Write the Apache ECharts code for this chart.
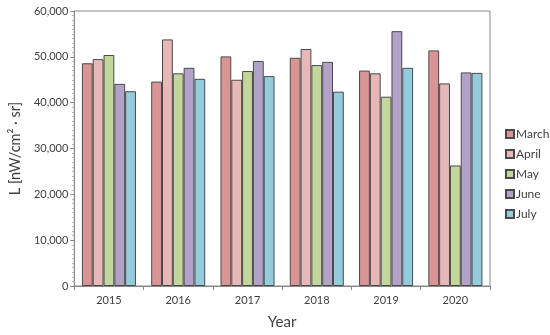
<!DOCTYPE html>
<html><head><meta charset="utf-8">
<script src="https://cdn.jsdelivr.net/npm/echarts@6/dist/echarts.min.js"></script>
<style>html,body{margin:0;padding:0;background:#fff}#c{width:550px;height:335px}</style>
</head><body><div id="c"></div>
<script>
const years = ['2015','2016','2017','2018','2019','2020'];
const march = [48600, 44600, 50100, 49800, 47000, 51400];
const april = [49500, 53800, 45000, 51700, 46400, 44200];
const may   = [50400, 46400, 46900, 48200, 41300, 26300];
const june  = [44100, 47600, 49100, 48900, 55600, 46600];
const july  = [42500, 45200, 45800, 42400, 47600, 46500];
const seriesNames = ['March','April','May','June','July'];
const colors = ['#d99594','#e6b9b8','#c3d69b','#b3a2c7','#93cddd'];
const yTicks = [0,10000,20000,30000,40000,50000,60000];

const chart = echarts.init(document.getElementById('c'));
const data = [march, april, may, june, july];
chart.setOption({
  animation:false,
  color: colors,
  textStyle:{fontFamily:'Lato, Open Sans, sans-serif'},
  grid:{left:64, top:11, width:426, height:281, show:true, borderColor:'#888', borderWidth:1},
  legend:{orient:'vertical', left:505, top:128, width:45, itemWidth:8, itemHeight:8, itemGap:8, padding:0,
    icon:'rect', textStyle:{fontSize:12, color:'#404040', padding:[0,0,0,-3]},
    data: seriesNames},
  xAxis:{type:'category', data: years, name:'Year', nameLocation:'middle', nameGap:29,
    nameTextStyle:{fontSize:15, color:'#404040'},
    axisLine:{lineStyle:{color:'#888'}}, axisTick:{show:true, length:4, lineStyle:{color:'#888'}},
    axisLabel:{fontSize:11, color:'#404040', margin:9}},
  yAxis:{type:'value', min:0, max:60000, interval:10000,
    name:'L [nW/cm\u00b2 \u00b7 sr]', nameLocation:'middle', nameGap:46,
    nameTextStyle:{fontSize:14.5, color:'#404040'},
    axisLine:{show:true, lineStyle:{color:'#888'}},
    axisTick:{show:true, length:4, lineStyle:{color:'#888'}},
    minorTick:{show:true, splitNumber:10, length:2, lineStyle:{color:'#aaa'}},
    splitLine:{show:false},
    axisLabel:{fontSize:11, color:'#404040', margin:6,
      formatter: v => v.toLocaleString('en-US')}},
  series: seriesNames.map((n,i)=>({
    name:n, type:'bar', data:data[i], barGap:'0%', barCategoryGap:'22%',
    itemStyle:{color:colors[i], borderColor:'#4a4a4a', borderWidth:1}
  }))
});
</script></body></html>
